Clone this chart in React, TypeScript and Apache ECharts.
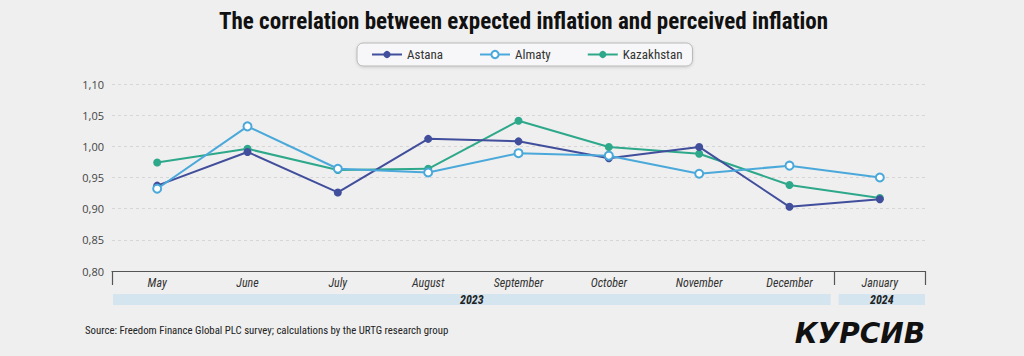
import React, { useEffect, useRef } from "react";
import * as echarts from "echarts";

const months = ["May", "June", "July", "August", "September", "October", "November", "December", "January"];
const astana = [0.937, 0.991, 0.926, 1.012, 1.008, 0.981, 0.999, 0.903, 0.915];
const almaty = [0.932, 1.032, 0.964, 0.958, 0.989, 0.985, 0.956, 0.969, 0.95];
const kazakhstan = [0.974, 0.996, 0.962, 0.964, 1.041, 0.999, 0.988, 0.938, 0.917];
const yearLabels = ["2023", "2024"];
const yearFirstMonth = [0, 8];
const yearLastMonth = [7, 8];
const yMin = 0.8;
const yMax = 1.1;
const yStep = 0.05;

const titleText = "The correlation between expected inflation and perceived inflation";
const sourceText = "Source: Freedom Finance Global PLC survey; calculations by the URTG research group";
const logoText = "КУРСИВ";

const COND = "'Liberation Sans Narrow', 'Roboto Condensed', 'DejaVu Sans Condensed', Roboto, sans-serif";
const BASE = "'Open Sans', Roboto, sans-serif";

export default function App() {
  const ref = useRef<HTMLDivElement>(null);
  useEffect(() => {
    document.body.style.margin = "0";
    const chart = echarts.init(ref.current!, null, { renderer: "svg" });
    const colors = ["#414e9c", "#4aa9da", "#2ea88a"];
    chart.setOption({
      animation: false,
      backgroundColor: "#efefef",
      title: {
        text: titleText,
        left: 214,
        top: 5,
        textStyle: { fontFamily: COND, fontWeight: "bold", fontSize: 23, color: "#111" },
      },
      legend: {
        top: 43,
        left: 357,
        itemWidth: 30,
        itemHeight: 9,
        itemGap: 36,
        padding: [5, 10, 5, 14],
        backgroundColor: "#f7f7f9",
        borderColor: "#b8b8b8",
        borderWidth: 1,
        borderRadius: 6,
        shadowColor: "rgba(0,0,0,0.15)",
        shadowBlur: 3,
        shadowOffsetY: 1,
        textStyle: { fontFamily: COND, fontSize: 13, color: "#333" },
        data: ["Astana", "Almaty", "Kazakhstan"],
      },
      grid: { left: 112, right: 99, top: 84, bottom: 85 },
      xAxis: {
        type: "category",
        data: months,
        boundaryGap: true,
        axisLine: { show: true, lineStyle: { color: "#555", width: 1.2 } },
        axisTick: {
          show: true,
          length: 14,
          interval: (i: number) => yearFirstMonth.includes(i),
          lineStyle: { color: "#555", width: 1.2 },
        },
        axisLabel: {
          fontFamily: COND,
          fontStyle: "italic",
          fontSize: 12,
          color: "#333",
          margin: 6,
          interval: 0,
        },
        splitLine: { show: false },
      },
      yAxis: {
        type: "value",
        min: yMin,
        max: yMax,
        interval: yStep,
        axisLine: { show: false },
        axisTick: { show: false },
        axisLabel: {
          fontFamily: BASE,
          fontSize: 11,
          color: "#444",
          margin: 8,
          formatter: (v: number) => v.toFixed(2).replace(".", ","),
        },
        splitLine: { show: true, lineStyle: { color: "#d6d6d6", type: [3, 3], width: 1 } },
      },
      series: [
        {
          name: "Astana",
          type: "line",
          data: astana,
          symbol: "circle",
          symbolSize: 8,
          color: colors[0],
          lineStyle: { width: 2, color: colors[0] },
          itemStyle: { color: colors[0] },
          z: 3,
        },
        {
          name: "Almaty",
          type: "line",
          data: almaty,
          symbol: "emptyCircle",
          symbolSize: 8,
          color: colors[1],
          lineStyle: { width: 2, color: colors[1] },
          itemStyle: { color: colors[1], borderColor: colors[1], borderWidth: 1.5 },
          z: 4,
        },
        {
          name: "Kazakhstan",
          type: "line",
          data: kazakhstan,
          symbol: "circle",
          symbolSize: 8,
          color: colors[2],
          lineStyle: { width: 2, color: colors[2] },
          itemStyle: { color: colors[2] },
          z: 2,
        },
      ],
    });

    const px = (i: number) => chart.convertToPixel({ xAxisIndex: 0 }, months[i]) as number;
    const band = px(1) - px(0);
    const yBase = chart.convertToPixel({ yAxisIndex: 0 }, yMin) as number;
    const bandTop = yBase + 23;
    const bandH = 11;
    const elements: any[] = [];
    yearLabels.forEach((label, k) => {
      const x0 = px(yearFirstMonth[k]) - band / 2 + (k === 0 ? 1 : 4);
      const x1 = px(yearLastMonth[k]) + band / 2 - (k === 0 ? 4 : 0);
      elements.push({
        type: "rect",
        shape: { x: x0, y: bandTop, width: x1 - x0, height: bandH },
        style: { fill: "#d5e5ef" },
        silent: true,
      });
      elements.push({
        type: "text",
        x: (x0 + x1) / 2,
        y: bandTop + bandH / 2,
        style: {
          text: label,
          fontFamily: COND,
          fontStyle: "italic",
          fontWeight: "bold",
          fontSize: 12,
          fill: "#222",
          align: "center",
          verticalAlign: "middle",
        },
      });
    });
    elements.push({
      type: "text",
      left: 85,
      top: 325,
      style: { text: sourceText, fontFamily: COND, fontSize: 10.8, fill: "#222" },
    });
    elements.push({
      type: "text",
      right: 99,
      top: 319,
      style: {
        text: logoText,
        fontFamily: "'DejaVu Sans', sans-serif",
        fontStyle: "italic",
        fontWeight: "bold",
        fontSize: 28,
        fill: "#111",
      },
    });
    chart.setOption({ graphic: { elements } });

    return () => chart.dispose();
  }, []);
  return <div ref={ref} style={{ width: 1024, height: 356 }} />;
}
